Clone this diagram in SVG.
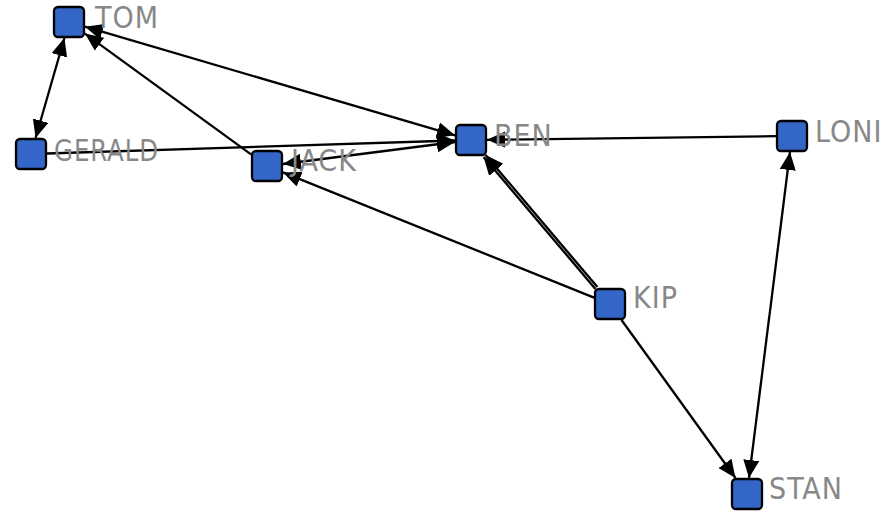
<svg xmlns="http://www.w3.org/2000/svg" width="889" height="512" viewBox="0 0 889 512">
<style>
.e{stroke:#000;stroke-width:2.3;fill:none;marker-end:url(#ah)}
.b{marker-start:url(#ah)}
.n rect{fill:#3366c6;stroke:#000;stroke-width:2.3}
.n text{font-family:"DejaVu Sans Condensed","DejaVu Sans",sans-serif;font-stretch:condensed;font-size:30px;letter-spacing:1px;fill:#888}
</style>
<defs>
<marker id="ah" markerUnits="userSpaceOnUse" markerWidth="19" markerHeight="17" refX="18" refY="8" orient="auto-start-reverse">
<path d="M0,0 L18,8 L0,16 z" fill="#000"/>
</marker>
</defs>
<rect width="889" height="512" fill="#fff"/>
<g id="edges">
<line class="e b" x1="64.4" y1="38" x2="35.6" y2="138"/>
<line class="e b" x1="85" y1="26.7" x2="455" y2="135.3"/>
<line class="e" x1="251" y1="154.4" x2="85" y2="33.6"/>
<line class="e" x1="47" y1="153.5" x2="455" y2="140.5"/>
<line class="e b" x1="283" y1="164" x2="455" y2="142"/>
<line class="e" x1="776" y1="136.2" x2="487" y2="139.8"/>
<line class="e" x1="597.4" y1="287.1" x2="485.6" y2="155.1"/>
<line class="e" x1="595.4" y1="288.9" x2="483.6" y2="156.9"/>
<line class="e" x1="594" y1="297.6" x2="283" y2="172.4"/>
<line class="e" x1="621.5" y1="320" x2="735.5" y2="478"/>
<line class="e b" x1="790" y1="152" x2="749" y2="478"/>
</g>
<g id="TOM" class="n"><rect x="54" y="7" width="30" height="30" rx="4"/><text x="95" y="28">TOM</text></g>
<g id="GERALD" class="n"><rect x="16" y="139" width="30" height="30" rx="4"/><text x="54" y="161" textLength="105" lengthAdjust="spacingAndGlyphs">GERALD</text></g>
<g id="JACK" class="n"><rect x="252" y="151" width="30" height="30" rx="4"/><text x="291" y="171">JACK</text></g>
<g id="BEN" class="n"><rect x="456" y="125" width="30" height="30" rx="4"/><text x="494" y="146">BEN</text></g>
<g id="LONI" class="n"><rect x="777" y="121" width="30" height="30" rx="4"/><text x="815" y="142">LONI</text></g>
<g id="KIP" class="n"><rect x="595" y="289" width="30" height="30" rx="4"/><text x="633" y="308">KIP</text></g>
<g id="STAN" class="n"><rect x="732" y="479" width="30" height="30" rx="4"/><text x="769" y="499">STAN</text></g>
</svg>
